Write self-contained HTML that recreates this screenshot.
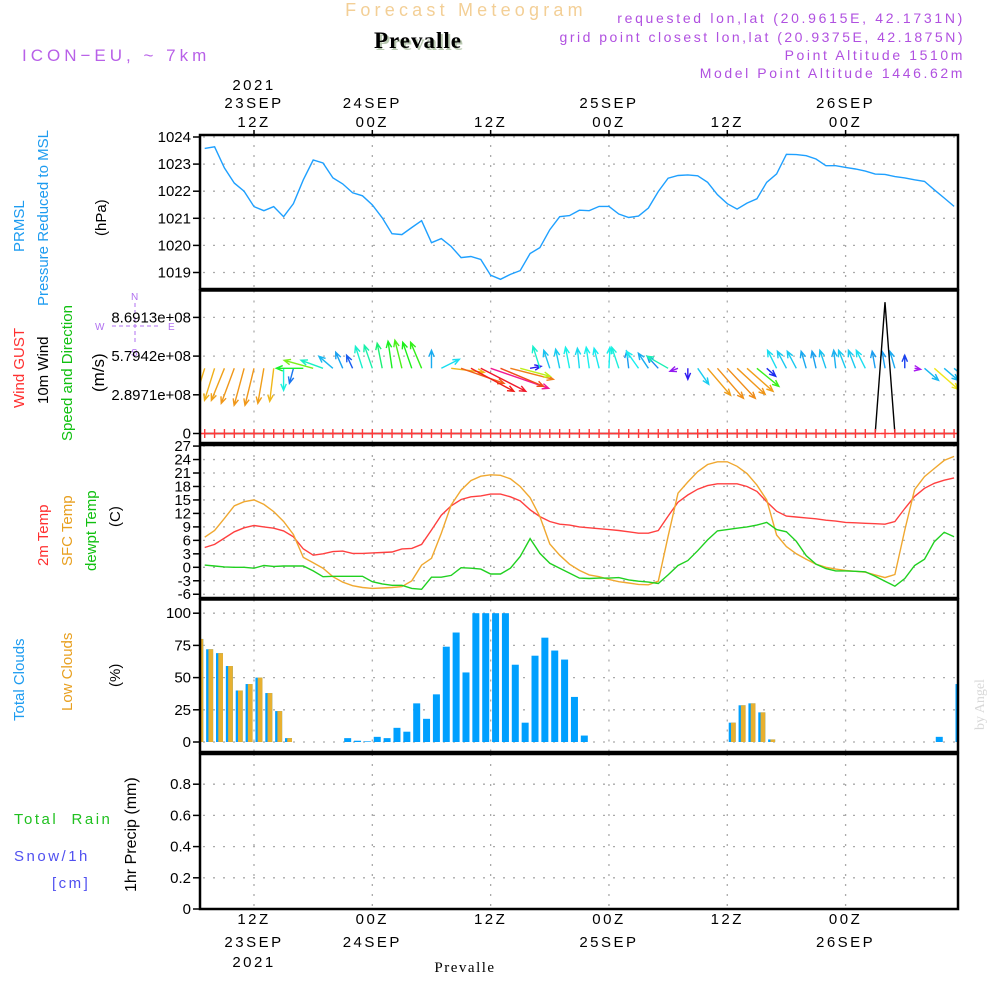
<!DOCTYPE html>
<html><head><meta charset="utf-8"><title>Meteogram Prevalle</title>
<style>
html,body{margin:0;padding:0;background:#fff;}
svg{display:block;font-family:"Liberation Sans",sans-serif;}
</style></head>
<body>
<svg id="chart" width="1000" height="1000" viewBox="0 0 1000 1000" xmlns="http://www.w3.org/2000/svg">
<g>
<text x="466" y="16" text-anchor="middle" font-size="18" fill="#f3cf96" letter-spacing="4.2">Forecast Meteogram</text>
<text x="418" y="48" text-anchor="middle" font-size="23" font-weight="bold" font-family="Liberation Serif, serif" fill="#000" letter-spacing="1" style="text-shadow:2px 2px 0 #b8c8b0">Prevalle</text>
<text x="22" y="61" font-size="17" fill="#b860e8" letter-spacing="4">ICON−EU, ~ 7km</text>
<text x="965" y="23" text-anchor="end" font-size="14" fill="#b050e0" letter-spacing="2.7">requested lon,lat (20.9615E, 42.1731N)</text>
<text x="965" y="42" text-anchor="end" font-size="14" fill="#b050e0" letter-spacing="2.5">grid point closest lon,lat (20.9375E, 42.1875N)</text>
<text x="965" y="60" text-anchor="end" font-size="14" fill="#b050e0" letter-spacing="2.6">Point Altitude 1510m</text>
<text x="965" y="78" text-anchor="end" font-size="14" fill="#b050e0" letter-spacing="2.6">Model Point Altitude 1446.62m</text>
</g>
<g font-size="15">
<text transform="translate(24,252) rotate(-90)" fill="#1e9cf0">PRMSL</text>
<text transform="translate(48,306) rotate(-90)" fill="#1e9cf0">Pressure Reduced to MSL</text>
<text transform="translate(106,236) rotate(-90)" fill="#000">(hPa)</text>
<text transform="translate(24,408) rotate(-90)" fill="#ff3030">Wind GUST</text>
<text transform="translate(48,404) rotate(-90)" fill="#000">10m Wind</text>
<text transform="translate(72,441) rotate(-90)" fill="#10c010">Speed and Direction</text>
<text transform="translate(104,392) rotate(-90)" fill="#000" font-size="17">(m/s)</text>
<text transform="translate(48,566) rotate(-90)" fill="#ff3030">2m Temp</text>
<text transform="translate(72,566) rotate(-90)" fill="#e8a020">SFC Temp</text>
<text transform="translate(96,571) rotate(-90)" fill="#10c010">dewpt Temp</text>
<text transform="translate(120,527) rotate(-90)" fill="#000">(C)</text>
<text transform="translate(24,721) rotate(-90)" fill="#1e9cf0">Total Clouds</text>
<text transform="translate(72,711) rotate(-90)" fill="#e8a020">Low Clouds</text>
<text transform="translate(120,687) rotate(-90)" fill="#000">(%)</text>
<text x="14" y="824" fill="#20c020" letter-spacing="2.5" xml:space="preserve">Total  Rain</text>
<text x="14" y="861" fill="#5050f0" letter-spacing="2.5">Snow/1h</text>
<text x="52" y="888" fill="#5050f0" letter-spacing="2.5">[cm]</text>
<text transform="translate(136,892) rotate(-90)" fill="#000" font-size="16">1hr Precip (mm)</text>
<text transform="translate(984,730) rotate(-90)" fill="#d8d8d8" font-family="Liberation Serif, serif" font-size="14">by Angel</text>
</g>
<g fill="#b070f0" font-size="10" stroke="none">
<text x="131" y="300">N</text>
<text x="95" y="330">W</text>
<text x="168" y="330">E</text>
<text x="131" y="356">S</text>
<path d="M135 303 V345 M112 326 H160" stroke="#b070f0" stroke-dasharray="4 3" fill="none"/>
</g>
<g id="plots"></g>
</svg>
<script>
// ---- data (hourly, hours since 23SEP 00Z) ----
const startHour = 7;
const pressure = [1023.58,1023.64,1022.86,1022.3,1022.0,1021.43,1021.28,1021.43,1021.06,1021.54,1022.42,1023.15,1023.04,1022.49,1022.27,1021.94,1021.83,1021.5,1021.02,1020.43,1020.40,1020.66,1020.91,1020.10,1020.25,1019.96,1019.55,1019.59,1019.48,1018.9,1018.75,1018.93,1019.07,1019.7,1019.92,1020.58,1021.06,1021.1,1021.3,
1021.28,1021.44,1021.44,1021.16,1021.03,1021.08,1021.38,1021.99,1022.48,1022.58,1022.6,1022.57,1022.33,1021.87,1021.54,1021.34,1021.56,1021.72,1022.33,1022.64,1023.36,1023.35,1023.31,1023.19,1022.94,1022.94,1022.88,1022.82,1022.74,1022.63,1022.62,1022.54,1022.49,1022.42,1022.36,1022.05,1021.75,1021.44];
const temp2m = [4.4,5.1,6.5,7.9,8.8,9.3,9.0,8.7,8.1,6.8,4.1,2.7,3.0,3.5,3.6,3.1,3.1,3.2,3.3,3.4,4.1,4.2,5.1,8.3,11.6,13.7,15.1,15.7,15.9,16.3,16.3,15.7,14.8,12.8,11.3,10.2,9.6,9.4,9.0,
8.8,8.6,8.4,8.2,7.9,7.6,7.6,8.2,11.4,14.5,16.1,17.4,18.2,18.6,18.6,18.6,18.0,16.9,14.6,12.5,11.4,11.2,11.0,10.8,10.5,10.3,10.0,9.9,9.8,9.7,9.6,10.2,13.1,15.8,17.6,18.7,19.4,19.9];
const tempSfc = [6.7,8.2,10.9,13.7,14.6,15.0,14.0,12.4,10.2,7.3,2.2,1.0,-0.2,-2.1,-3.3,-4.1,-4.5,-4.7,-4.6,-4.5,-4.3,-3.0,0.5,2.0,7.6,13.9,17.2,19.3,20.3,20.6,20.5,19.7,18.0,15.5,11.3,5.2,2.7,0.7,-0.7,
-1.7,-2.1,-2.7,-3.2,-3.5,-3.8,-3.9,-3.1,6.9,16.5,19.0,21.3,22.9,23.5,23.5,22.5,20.9,18.3,15.0,7.2,4.6,3.0,1.8,0.7,0.0,-0.4,-0.7,-0.9,-1.1,-1.7,-2.3,-1.6,8.3,17.3,20.2,22.0,23.8,24.7];
const dewpt = [0.5,0.3,0.1,0.0,0.0,-0.2,0.4,0.2,0.3,0.3,0.3,-0.8,-2.1,-2.0,-2.0,-2.0,-2.0,-3.2,-3.7,-4.0,-4.0,-4.7,-4.9,-2.2,-2.2,-1.8,-0.1,-0.2,-0.4,-1.5,-1.5,-0.2,2.4,6.4,3.1,0.9,-0.2,-1.3,-2.4,
-2.5,-2.4,-2.4,-2.3,-2.8,-3.1,-3.3,-3.6,-1.7,0.4,1.5,3.7,6.1,8.1,8.4,8.7,9.0,9.4,10.0,8.4,7.9,5.8,2.6,0.7,-0.3,-0.8,-0.8,-0.9,-1.0,-2.0,-3.1,-4.2,-2.5,0.4,1.8,5.7,7.8,6.8];
const windU = [-10,-10,-13,-13,-10,-9,-6,-4,0,-4,-27,-29,-22,-14,-7,-6,-7,-8,-5,-4,-7,-9,-11,0,18,33,43,43,45,58,43,43,30,11,-7,-6,-4,-4,-2,
-3,-5,1,-7,-2,-12,-10,-11,-21,-8,0,11,23,26,28,28,26,22,9,-9,-9,-9,-5,-4,-6,-2,-7,-7,-9,-3,-3,-5,0,6,14,24,14,14];
const windV = [-32,-32,-32,-35,-37,-37,-35,-33,-22,-15,0,8,8,12,16,13,22,23,25,27,28,26,26,18,9,-4,-15,-23,-23,-20,-18,-11,-8,2,22,18,19,21,20,
21,20,21,21,17,17,15,12,12,-3,-11,-16,-27,-30,-30,-26,-23,-18,-8,18,17,17,17,17,18,18,18,18,18,17,17,17,13,-1,-12,-21,-12,-12];
const gust = [0,0,0,0,0,0,0,0,0,0,0,0,0,0,0,0,0,0,0,0,0,0,0,0,0,0,0,0,0,0,0,0,0,0,0,0,0,0,0,0,0,0,0,0,0,0,0,0,0,0,0,0,0,0,0,0,0,0,0,0,0,0,0,0,0,0,0,0,0,9.83e8,0,0,0,0,0,0,0];
const cloudStart = 6.5;
const cloudTotal = [80,72,69,59,40,45,50,38,24,3,0,0,0,0,0,3,1,0.5,4,3,11,8,30,18,37,74,85,54,100,100,100,100,60,15,67,81,71,64,35,5,0,0,0,0,0,0,0,0,0,0,0,0,0,0,15,28.5,30,23,2,0,0,0,0,0,0,0,0,0,0,0,0,0,0,0,0,4,0,45];
const cloudLow = [80,72,69,59,40,45,50,38,24,3,0,0,0,0,0,0,0,0,0,0,0,0,0,0,0,0,0,0,0,0,0,0,0,0,0,0,0,0,0,0,0,0,0,0,0,0,0,0,0,0,0,0,0,0,15,28.5,30,23,2,0,0,0,0,0,0,0,0,0,0,0,0,0,0,0,0,0,0,3];
const precip = new Array(77).fill(0);
const pressTicks = [1019,1020,1021,1022,1023,1024];
const windTicks = [0,2.8971e8,5.7942e8,8.6913e8];
const windTickLabels = ["0","2.8971e+08","5.7942e+08","8.6913e+08"];
const tempTicks = [-6,-3,0,3,6,9,12,15,18,21,24,27];
const cloudTicks = [0,25,50,75,100];
const precipTicks = [0,0.2,0.4,0.6,0.8];
const timeTickHours = [12,24,36,48,60,72];
const topTickLabels = [["2021","23SEP","12Z"],["","24SEP","00Z"],["","","12Z"],["","25SEP","00Z"],["","","12Z"],["","26SEP","00Z"]];
const botTickLabels = [["12Z","23SEP","2021"],["00Z","24SEP",""],["12Z","",""],["00Z","25SEP",""],["12Z","",""],["00Z","26SEP",""]];

// ---- scales ----
const X0 = 200, X1 = 958;
const xh = h => 254 + (h - 12) * 9.86;
const yPress = v => 137 + (1024 - v) * 27.1;
const yWind = v => 433.5 - v / 2.8971e8 * 38.7;
const yTemp = v => 567.3 - v * 4.49;
const yCloud = v => 742 - v * 1.288;
const yPrec = v => 909 - v * 156;
const panels = [[135,289],[290.5,443],[445,598],[599.5,752],[754,909]];

const NS = "http://www.w3.org/2000/svg";
const root = document.getElementById('plots');
function mk(tag, attrs, parent) {
  const e = document.createElementNS(NS, tag);
  for (const k in attrs) e.setAttribute(k, attrs[k]);
  (parent || root).appendChild(e);
  return e;
}
const defs = mk('defs', {});
panels.forEach((p, i) => {
  const cp = mk('clipPath', {id: 'clip' + i}, defs);
  mk('rect', {x: X0, y: p[0], width: X1 - X0, height: p[1] - p[0]}, cp);
});

// grid
const grid = mk('g', {stroke: '#aaa', 'stroke-width': 1.3, 'stroke-dasharray': '2 8', fill: 'none'});


timeTickHours.forEach(h => {
  panels.forEach(p => mk('line', {x1: xh(h), x2: xh(h), y1: p[0], y2: p[1]}, grid));
});
function hgrid(ticks, fy) { ticks.forEach(t => mk('line', {x1: X0 + 3, x2: X1, y1: fy(t), y2: fy(t)}, grid)); }
hgrid(pressTicks, yPress); hgrid(windTicks.slice(1), yWind); hgrid(tempTicks, yTemp);
hgrid(cloudTicks, yCloud); hgrid(precipTicks.slice(1), yPrec);

// tick labels
const labs = mk('g', {'font-size': 15, fill: '#000', 'text-anchor': 'end'});


function ylabels(ticks, fy, texts, name) {
  ticks.forEach((t, i) => {
    const ty = fy(t);
    mk('line', {x1: X0 - 7, x2: X0, y1: ty, y2: ty, stroke: '#000', 'stroke-width': 1.5}, labs);
    const tx = mk('text', {x: X0 - 9, y: ty + 5}, labs);
    tx.textContent = texts ? texts[i] : String(t);
    
    
  });
}
ylabels(pressTicks, yPress, null, 'pressure');
ylabels(windTicks, yWind, windTickLabels, 'wind');
ylabels(tempTicks, yTemp, null, 'temp');
ylabels(cloudTicks, yCloud, null, 'cloud');
ylabels(precipTicks, yPrec, null, 'precip');

// time labels
const tl = mk('g', {'font-size': 15, fill: '#000', 'text-anchor': 'middle', 'letter-spacing': '2.5'});


timeTickHours.forEach((h, i) => {
  [90, 108, 127].forEach((yy, j) => {
    if (!topTickLabels[i][j]) return;
    const t = mk('text', {x: xh(h), y: yy}, tl);
    t.textContent = topTickLabels[i][j];
    
    
  });
  [924, 947, 967].forEach((yy, j) => {
    if (!botTickLabels[i][j]) return;
    const t = mk('text', {x: xh(h), y: yy}, tl);
    t.textContent = botTickLabels[i][j];
    
    
  });
  mk('line', {x1: xh(h), x2: xh(h), y1: 130, y2: 135, stroke: '#000', 'stroke-width': 1.5}, tl);
});
const bt = mk('text', {x: 465, y: 972, 'font-family': 'Liberation Serif, serif', 'font-size': 15, 'letter-spacing': '1.5'}, tl);
bt.textContent = 'Prevalle';



function line(arr, fy, color, name, ci) {
  const pts = arr.map((v, i) => xh(startHour + i).toFixed(1) + ',' + fy(v).toFixed(1)).join(' ');
  const pl = mk('polyline', {points: pts, fill: 'none', stroke: color, 'stroke-width': 1.4, 'clip-path': 'url(#clip' + ci + ')'});
  
  
}
line(pressure, yPress, '#1ea0ff', 'pressure-line', 0);
line(temp2m, yTemp, '#ff4040', 'temp-2m-line', 2);
line(tempSfc, yTemp, '#f0a830', 'sfc-temp-line', 2);
line(dewpt, yTemp, '#20d020', 'dewpt-line', 2);

// clouds
const cg = mk('g', {'clip-path': 'url(#clip3)'});


cloudTotal.forEach((v, i) => {
  if (v <= 0) return;
  const cx = xh(cloudStart + i);
  const r = mk('rect', {x: cx - 3.5, y: yCloud(v), width: 7, height: yCloud(0) - yCloud(v), fill: '#00a0ff'}, cg);
  
  
});
cloudLow.forEach((v, i) => {
  if (v <= 0) return;
  const cx = xh(cloudStart + i);
  const r = mk('rect', {x: cx - 1.2, y: yCloud(v), width: 4.7, height: yCloud(0) - yCloud(v), fill: '#e8b030'}, cg);
  
  
});
// precip
const pg = mk('g', {});


precip.forEach((v, i) => {
  if (v <= 0) return;
  const cx = xh(startHour + i);
  mk('rect', {x: cx - 3, y: yPrec(v), width: 6, height: yPrec(0) - yPrec(v), fill: '#20c020'}, pg);
});

// wind arrows
const hueStops = [[8,280],[12,235],[17,205],[21,180],[24,165],[27,125],[30,95],[32,55],[34,38],[44,30],[48,5],[56,-25],[62,-35]];
function hueFor(len) {
  if (len <= hueStops[0][0]) return hueStops[0][1];
  for (let i = 1; i < hueStops.length; i++) {
    if (len <= hueStops[i][0]) {
      const a = hueStops[i-1], b = hueStops[i];
      return a[1] + (b[1] - a[1]) * (len - a[0]) / (b[0] - a[0]);
    }
  }
  return -35;
}
const wg = mk('g', {'clip-path': 'url(#clip1)', fill: 'none', 'stroke-width': 1.4});


const baseY = 368.3;
windU.forEach((u, i) => {
  const v = windV[i];
  const len = Math.hypot(u, v);
  if (len < 0.5) return;
  const x1 = xh(startHour + i), y1 = baseY, x2 = x1 + u, y2 = baseY - v;
  const hue = (hueFor(len) + 360) % 360;
  const col = 'hsl(' + hue.toFixed(0) + ',88%,52%)';
  const ang = Math.atan2(y2 - y1, x2 - x1);
  const hl = 7;
  const a1 = ang + Math.PI - 0.4, a2 = ang + Math.PI + 0.4;
  const d = 'M' + x1 + ' ' + y1 + 'L' + x2 + ' ' + y2 +
    'M' + (x2 + hl * Math.cos(a1)) + ' ' + (y2 + hl * Math.sin(a1)) + 'L' + x2 + ' ' + y2 +
    'L' + (x2 + hl * Math.cos(a2)) + ' ' + (y2 + hl * Math.sin(a2));
  const p = mk('path', {d: d, stroke: col}, wg);
  
  
});
// gust line
line(gust, yWind, '#000', 'gust-line', 1);
const pluses = mk('g', {stroke: '#ff3a3a', 'stroke-width': 1.4, 'clip-path': 'url(#clip1)'});


gust.forEach((v, i) => {
  const cx = xh(startHour + i), cy = yWind(0);
  mk('path', {d: 'M' + (cx - 4.5) + ' ' + cy + 'H' + (cx + 4.5) + 'M' + cx + ' ' + (cy - 4.5) + 'V' + (cy + 4.5)}, pluses);
});
mk('line', {x1: X0, x2: X1, y1: yWind(0), y2: yWind(0), stroke: '#ff3a3a', 'stroke-width': 1.2});

// frames
const fr = mk('g', {fill: 'none', stroke: '#000', 'stroke-width': 2.5});


panels.forEach(p => mk('rect', {x: X0, y: p[0], width: X1 - X0, height: p[1] - p[0]}, fr));
</script>
</body></html>
